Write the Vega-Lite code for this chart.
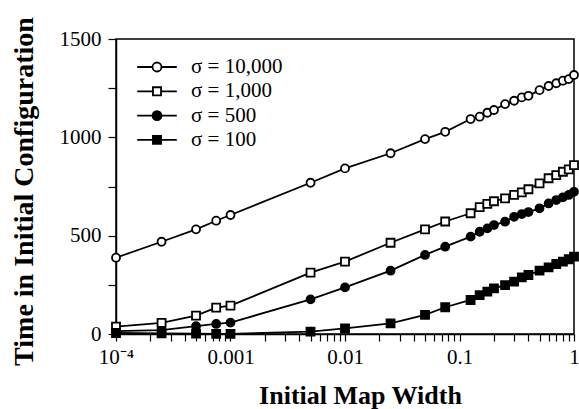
{
  "$schema": "https://vega.github.io/schema/vega-lite/v6.json",
  "width": 458,
  "height": 295,
  "autosize": {"type": "none"},
  "padding": {"left": 116, "top": 39, "right": 5, "bottom": 75},
  "background": "white",
  "config": {
    "view": {"stroke": "black", "strokeWidth": 1.5},
    "axis": {
      "domainColor": "black", "domainWidth": 1.5, "tickColor": "black", "tickWidth": 1.2,
      "labelColor": "black", "labelFont": "Liberation Serif", "labelFontSize": 21,
      "titleFont": "Liberation Serif", "titleFontWeight": "bold", "titleColor": "black",
      "grid": false
    },
    "legend": {
      "labelFont": "Liberation Serif", "labelFontSize": 21, "labelColor": "black",
      "title": null, "orient": "none", "legendX": 30.5, "legendY": 17.5,
      "symbolSize": 81, "symbolStrokeWidth": 1.8, "symbolStrokeColor": "black", "symbolOpacity": 1,
      "labelOffset": 23.5, "rowPadding": 2.3, "symbolLimit": 0
    }
  },
  "data": {"values": [
    {"w":0.0001,"t":388,"s":"σ = 10,000"},{"w":0.00025,"t":469,"s":"σ = 10,000"},{"w":0.0005,"t":532,"s":"σ = 10,000"},{"w":0.00075,"t":576,"s":"σ = 10,000"},{"w":0.001,"t":605,"s":"σ = 10,000"},{"w":0.005,"t":769,"s":"σ = 10,000"},{"w":0.01,"t":842,"s":"σ = 10,000"},{"w":0.025,"t":919,"s":"σ = 10,000"},{"w":0.05,"t":991,"s":"σ = 10,000"},{"w":0.075,"t":1028,"s":"σ = 10,000"},{"w":0.125,"t":1093,"s":"σ = 10,000"},{"w":0.15,"t":1105,"s":"σ = 10,000"},{"w":0.175,"t":1125,"s":"σ = 10,000"},{"w":0.2,"t":1139,"s":"σ = 10,000"},{"w":0.25,"t":1169,"s":"σ = 10,000"},{"w":0.3,"t":1186,"s":"σ = 10,000"},{"w":0.35,"t":1203,"s":"σ = 10,000"},{"w":0.4,"t":1211,"s":"σ = 10,000"},{"w":0.5,"t":1240,"s":"σ = 10,000"},{"w":0.6,"t":1261,"s":"σ = 10,000"},{"w":0.7,"t":1275,"s":"σ = 10,000"},{"w":0.8,"t":1288,"s":"σ = 10,000"},{"w":0.9,"t":1296,"s":"σ = 10,000"},{"w":1,"t":1317,"s":"σ = 10,000"},
    {"w":0.0001,"t":37,"s":"σ = 1,000"},{"w":0.00025,"t":57,"s":"σ = 1,000"},{"w":0.0005,"t":93,"s":"σ = 1,000"},{"w":0.00075,"t":134,"s":"σ = 1,000"},{"w":0.001,"t":144,"s":"σ = 1,000"},{"w":0.005,"t":312,"s":"σ = 1,000"},{"w":0.01,"t":368,"s":"σ = 1,000"},{"w":0.025,"t":464,"s":"σ = 1,000"},{"w":0.05,"t":532,"s":"σ = 1,000"},{"w":0.075,"t":572,"s":"σ = 1,000"},{"w":0.125,"t":614,"s":"σ = 1,000"},{"w":0.15,"t":645,"s":"σ = 1,000"},{"w":0.175,"t":662,"s":"σ = 1,000"},{"w":0.2,"t":675,"s":"σ = 1,000"},{"w":0.25,"t":690,"s":"σ = 1,000"},{"w":0.3,"t":707,"s":"σ = 1,000"},{"w":0.35,"t":720,"s":"σ = 1,000"},{"w":0.4,"t":736,"s":"σ = 1,000"},{"w":0.5,"t":766,"s":"σ = 1,000"},{"w":0.6,"t":792,"s":"σ = 1,000"},{"w":0.7,"t":808,"s":"σ = 1,000"},{"w":0.8,"t":825,"s":"σ = 1,000"},{"w":0.9,"t":837,"s":"σ = 1,000"},{"w":1,"t":859,"s":"σ = 1,000"},
    {"w":0.0001,"t":15,"s":"σ = 500"},{"w":0.00025,"t":20,"s":"σ = 500"},{"w":0.0005,"t":40,"s":"σ = 500"},{"w":0.00075,"t":51,"s":"σ = 500"},{"w":0.001,"t":58,"s":"σ = 500"},{"w":0.005,"t":176,"s":"σ = 500"},{"w":0.01,"t":237,"s":"σ = 500"},{"w":0.025,"t":322,"s":"σ = 500"},{"w":0.05,"t":402,"s":"σ = 500"},{"w":0.075,"t":444,"s":"σ = 500"},{"w":0.125,"t":495,"s":"σ = 500"},{"w":0.15,"t":520,"s":"σ = 500"},{"w":0.175,"t":537,"s":"σ = 500"},{"w":0.2,"t":554,"s":"σ = 500"},{"w":0.25,"t":571,"s":"σ = 500"},{"w":0.3,"t":596,"s":"σ = 500"},{"w":0.35,"t":610,"s":"σ = 500"},{"w":0.4,"t":620,"s":"σ = 500"},{"w":0.5,"t":639,"s":"σ = 500"},{"w":0.6,"t":664,"s":"σ = 500"},{"w":0.7,"t":681,"s":"σ = 500"},{"w":0.8,"t":695,"s":"σ = 500"},{"w":0.9,"t":707,"s":"σ = 500"},{"w":1,"t":723,"s":"σ = 500"},
    {"w":0.0001,"t":5,"s":"σ = 100"},{"w":0.00025,"t":3,"s":"σ = 100"},{"w":0.0005,"t":2,"s":"σ = 100"},{"w":0.00075,"t":1,"s":"σ = 100"},{"w":0.001,"t":1,"s":"σ = 100"},{"w":0.005,"t":12,"s":"σ = 100"},{"w":0.01,"t":29,"s":"σ = 100"},{"w":0.025,"t":54,"s":"σ = 100"},{"w":0.05,"t":97,"s":"σ = 100"},{"w":0.075,"t":136,"s":"σ = 100"},{"w":0.125,"t":173,"s":"σ = 100"},{"w":0.15,"t":198,"s":"σ = 100"},{"w":0.175,"t":215,"s":"σ = 100"},{"w":0.2,"t":232,"s":"σ = 100"},{"w":0.25,"t":249,"s":"σ = 100"},{"w":0.3,"t":266,"s":"σ = 100"},{"w":0.35,"t":288,"s":"σ = 100"},{"w":0.4,"t":300,"s":"σ = 100"},{"w":0.5,"t":322,"s":"σ = 100"},{"w":0.6,"t":339,"s":"σ = 100"},{"w":0.7,"t":356,"s":"σ = 100"},{"w":0.8,"t":368,"s":"σ = 100"},{"w":0.9,"t":380,"s":"σ = 100"},{"w":1,"t":393,"s":"σ = 100"}
  ]},
  "encoding": {
    "x": {
      "field": "w", "type": "quantitative",
      "scale": {"type": "log", "domain": [0.0001, 1], "nice": false},
      "axis": {
        "title": "Initial Map Width", "titleFontSize": 26, "titleX": 244, "titleY": 69,
        "titleBaseline": "alphabetic", "titleAnchor": "middle",
        "values": [0.0001,0.0002,0.0003,0.0004,0.0005,0.0006,0.0007,0.0008,0.0009,0.001,0.002,0.003,0.004,0.005,0.006,0.007,0.008,0.009,0.01,0.02,0.03,0.04,0.05,0.06,0.07,0.08,0.09,0.1,0.2,0.3,0.4,0.5,0.6,0.7,0.8,0.9,1],
        "labelExpr": "datum.value == 0.0001 ? '10⁻⁴' : datum.value == 0.001 ? '0.001' : datum.value == 0.01 ? '0.01' : datum.value == 0.1 ? '0.1' : datum.value == 1 ? '1' : ''",
        "labelOverlap": false, "labelFlush": false, "tickSize": 7, "labelPadding": 5
      }
    },
    "y": {
      "field": "t", "type": "quantitative",
      "scale": {"domain": [0, 1500], "nice": false},
      "axis": {
        "title": "Time in Initial Configuration", "titleFontSize": 28, "titleX": -84, "titleY": 152,
        "titleBaseline": "alphabetic", "titleAnchor": "middle",
        "values": [0, 250, 500, 750, 1000, 1250, 1500], "format": "d",
        "labelExpr": "datum.value % 500 == 0 ? datum.label : ''",
        "tickSize": 8, "labelPadding": 7
      }
    }
  },
  "layer": [
    {
      "mark": {"type": "line", "color": "black", "strokeWidth": 1.8},
      "encoding": {"detail": {"field": "s"}}
    },
    {
      "transform": [{"filter": "datum.s == 'σ = 10,000' || datum.s == 'σ = 500'"}],
      "mark": {"type": "point", "shape": "circle", "filled": false, "strokeWidth": 1.8, "opacity": 1, "size": 64},
      "encoding": {
        "stroke": {"value": "black"},
        "fill": {"condition": {"test": "datum.s == 'σ = 500'", "value": "black"}, "value": "white"}
      }
    },
    {
      "transform": [{"filter": "datum.s == 'σ = 1,000' || datum.s == 'σ = 100'"}],
      "mark": {"type": "point", "shape": "square", "filled": false, "strokeWidth": 1.8, "opacity": 1, "size": 64},
      "encoding": {
        "stroke": {"value": "black"},
        "fill": {"condition": {"test": "datum.s == 'σ = 100'", "value": "black"}, "value": "white"}
      }
    },
    {
      "transform": [{"filter": "datum.w == 1"}],
      "mark": {"type": "point", "filled": false, "strokeWidth": 1.8, "opacity": 1, "size": 0},
      "encoding": {
        "stroke": {"value": "black"},
        "shape": {
          "field": "s", "type": "nominal",
          "scale": {"domain": ["σ = 10,000","σ = 1,000","σ = 500","σ = 100"], "range": ["M-4.4,0H-1M1,0H4.4M1,0A1,1,0,1,1,-1,0A1,1,0,1,1,1,0Z","M-4.4,0H-0.9M0.9,0H4.4M-0.9,-0.9H0.9V0.9H-0.9Z","M-4.4,0H-1M1,0H4.4M1,0A1,1,0,1,1,-1,0A1,1,0,1,1,1,0Z","M-4.4,0H-0.9M0.9,0H4.4M-0.9,-0.9H0.9V0.9H-0.9Z"]},
          "legend": {
            "symbolOpacity": 1, "symbolSize": 81, "symbolStrokeColor": "black", "symbolStrokeWidth": 1.8,
            "encoding": {"symbols": {"stroke": {"value": "black"}, "strokeWidth": {"value": 1.8}}}
          }
        },
        "fill": {
          "field": "s", "type": "nominal",
          "scale": {"domain": ["σ = 10,000","σ = 1,000","σ = 500","σ = 100"], "range": ["white","white","black","black"]},
          "legend": {
            "symbolOpacity": 1, "symbolSize": 81, "symbolStrokeColor": "black", "symbolStrokeWidth": 1.8,
            "encoding": {"symbols": {"stroke": {"value": "black"}, "strokeWidth": {"value": 1.8}}}
          }
        }
      }
    }
  ]
}
